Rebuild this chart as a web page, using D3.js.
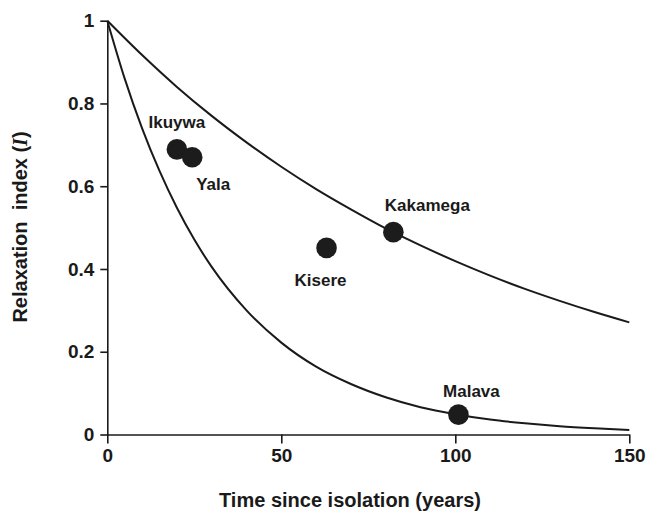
<!DOCTYPE html>
<html>
<head>
<meta charset="utf-8">
<script src="https://cdn.jsdelivr.net/npm/d3@7"></script>
<style>
  body { margin: 0; background: #fff; }
  svg { display: block; font-family: "Liberation Sans", Arial, Helvetica, sans-serif; }
  .axis path, .axis line { stroke: #1a1a1a; stroke-width: 1.6; }
  .axis text { font-size: 19px; font-weight: bold; fill: #1a1a1a; }
</style>
</head>
<body>
<div id="chart"></div>
<script>
// sites (points)
var siteNames = ['Ikuywa', 'Yala', 'Kisere', 'Kakamega', 'Malava'];
var siteYears = [20, 24.4, 63, 82.2, 100.9];
var siteIndex = [0.689, 0.670, 0.451, 0.489, 0.048];

// upper curve (slow relaxation)
var slowYears = [0, 10, 20, 30, 40, 50, 60, 70, 80, 90, 100, 110, 120, 130, 140, 150];
var slowIndex = [1, 0.917, 0.840, 0.770, 0.706, 0.647, 0.593, 0.544, 0.498, 0.457, 0.419, 0.384, 0.352, 0.323, 0.296, 0.271];

// lower curve (fast relaxation)
var fastYears = [0, 5, 10, 15, 20, 25, 30, 40, 50, 60, 70, 80, 90, 100, 110, 120, 130, 140, 150];
var fastIndex = [1, 0.860, 0.740, 0.637, 0.548, 0.471, 0.405, 0.300, 0.222, 0.164, 0.122, 0.090, 0.066, 0.049, 0.036, 0.027, 0.020, 0.015, 0.011];

var xTicks = [0, 50, 100, 150];
var yTicks = [0, 0.2, 0.4, 0.6, 0.8, 1];
var yTickLabels = ['0', '0.2', '0.4', '0.6', '0.8', '1'];

var width = 647, height = 514;

var svg = d3.select('#chart').append('svg')
    .attr('width', width)
    .attr('height', height);

var xScale = d3.scaleLinear().domain([0, 150]).range([107.3, 629.3]);
var yScale = d3.scaleLinear().domain([0, 1]).range([434.5, 20.7]);

// axes
var xAxis = d3.axisBottom(xScale).tickValues(xTicks).tickSize(9).tickSizeOuter(0).tickPadding(5);
var yAxis = d3.axisLeft(yScale).tickValues(yTicks).tickSize(7).tickSizeOuter(0).tickPadding(6)
    .tickFormat(function (d, i) { return yTickLabels[i]; });

svg.append('g').attr('class', 'axis x-axis')
    .attr('transform', 'translate(0,' + yScale(0) + ')')
    .call(xAxis);

svg.append('g').attr('class', 'axis y-axis')
    .attr('transform', 'translate(' + xScale(0) + ',0)')
    .call(yAxis);

// curves
var line = d3.line()
    .x(function (d) { return xScale(d[0]); })
    .y(function (d) { return yScale(d[1]); })
    .curve(d3.curveMonotoneX);

[[slowYears, slowIndex], [fastYears, fastIndex]].forEach(function (c) {
    svg.append('path')
        .attr('d', line(d3.zip(c[0], c[1])))
        .style('fill', 'none')
        .style('stroke', '#1a1a1a')
        .style('stroke-width', 2);
});

// points
var sites = siteNames.map(function (n, i) {
    return { name: n, t: siteYears[i], v: siteIndex[i] };
});

svg.selectAll('circle.site')
    .data(sites)
    .enter().append('circle')
    .attr('class', 'site')
    .attr('r', 10.3)
    .attr('cx', function (d) { return xScale(d.t); })
    .attr('cy', function (d) { return yScale(d.v); })
    .style('fill', '#1c1c1c');

// label offsets from the point centre
var labelOffset = { Ikuywa: [0, -21], Yala: [21, 33], Kisere: [-6, 38], Kakamega: [34, -21], Malava: [13, -18] };

svg.selectAll('text.site-label')
    .data(sites)
    .enter().append('text')
    .attr('class', 'site-label')
    .attr('x', function (d) { return xScale(d.t) + labelOffset[d.name][0]; })
    .attr('y', function (d) { return yScale(d.v) + labelOffset[d.name][1]; })
    .attr('text-anchor', 'middle')
    .style('font-size', '17px')
    .style('font-weight', 'bold')
    .style('fill', '#1a1a1a')
    .text(function (d) { return d.name; });

// axis titles
svg.append('text')
    .attr('x', 350)
    .attr('y', 507)
    .attr('text-anchor', 'middle')
    .style('font-size', '20px')
    .style('font-weight', 'bold')
    .style('fill', '#1a1a1a')
    .text('Time since isolation (years)');

var yTitle = svg.append('text')
    .attr('transform', 'translate(27,227) rotate(-90)')
    .attr('text-anchor', 'middle')
    .style('font-size', '20px')
    .style('font-weight', 'bold')
    .style('fill', '#1a1a1a');
yTitle.append('tspan').text('Relaxation\u00a0 index (');
yTitle.append('tspan')
    .style('font-family', '"Liberation Serif", "DejaVu Serif", serif')
    .style('font-style', 'italic')
    .text('I');
yTitle.append('tspan').text(')');
</script>
</body>
</html>
